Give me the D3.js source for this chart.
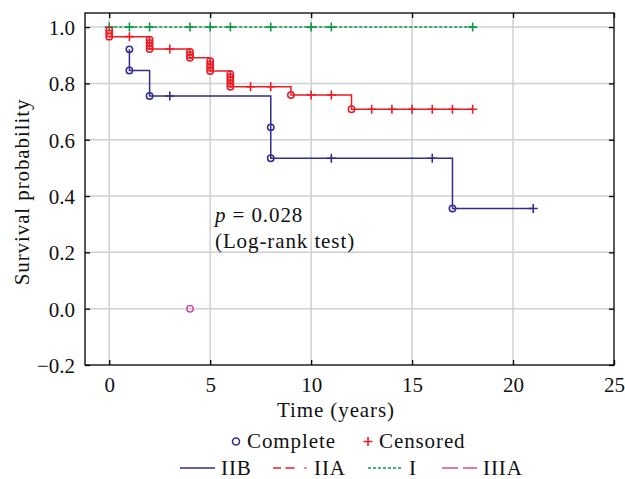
<!DOCTYPE html>
<html>
<head>
<meta charset="utf-8">
<script src="https://cdn.jsdelivr.net/npm/d3@7"></script>
<style>
  body { margin: 0; background: #fff; }
  text { font-family: "Liberation Serif", serif; fill: #111; }
  .word { letter-spacing: 0.9px; }
</style>
</head>
<body>
<script>
// Data
const groups = ["IIB", "IIA", "I", "IIIA"];
const colors = ["#312c8e", "#ec1c24", "#0d9a48", "#d24f9c"];

// step curves (time, survival)
const iibTime = [1, 1, 2, 8, 17, 21];
const iibSurv = [0.921, 0.846, 0.755, 0.534, 0.356, 0.356];
const iiaTime = [0, 2, 4, 5, 6, 9, 12, 18];
const iiaSurv = [0.966, 0.922, 0.891, 0.844, 0.788, 0.759, 0.708, 0.708];
const iTime = [0, 18];
const iSurv = [1, 1];

// events (complete)
const iibEventTime = [1, 1, 2, 8, 8, 17];
const iibEventSurv = [0.921, 0.846, 0.755, 0.644, 0.534, 0.356];
const iiaEventTime = [0, 0, 0, 2, 2, 2, 2, 4, 4, 4, 5, 5, 5, 5, 6, 6, 6, 6, 6, 9, 12];
const iiaEventSurv = [0.989, 0.977, 0.966, 0.955, 0.944, 0.933, 0.922, 0.912, 0.901, 0.891,
                      0.879, 0.867, 0.856, 0.844, 0.833, 0.822, 0.811, 0.799, 0.788, 0.759, 0.708];
const iiiaEventTime = [4];
const iiiaEventSurv = [0];

// censored
const iibCensTime = [3, 11, 16, 21];
const iibCensSurv = [0.755, 0.534, 0.534, 0.356];
const iiaCensTime = [1, 3, 7, 8, 10, 11, 13, 14, 15, 16, 17, 18];
const iiaCensSurv = [0.966, 0.922, 0.788, 0.788, 0.759, 0.759, 0.708, 0.708, 0.708, 0.708, 0.708, 0.708];
const iCensTime = [0, 1, 2, 4, 5, 6, 8, 10, 11, 18];
const iCensSurv = [1, 1, 1, 1, 1, 1, 1, 1, 1, 1];

const xTicks = [0, 5, 10, 15, 20, 25];
const yTicks = [-0.2, 0, 0.2, 0.4, 0.6, 0.8, 1.0];

const width = 625, height = 479;
const pLeft = 85, pRight = 614, pTop = 13, pBottom = 365;

const svg = d3.select("body").append("svg")
    .attr("width", width)
    .attr("height", height);

const x = d3.scaleLinear().domain([-1.2, 25]).range([pLeft, pRight]);
const y = d3.scaleLinear().domain([-0.2, 1.05]).range([pBottom, pTop]);

// grid
svg.append("g")
    .selectAll("line")
    .data(xTicks.filter(d => d < 25))
    .join("line")
    .attr("x1", d => x(d)).attr("x2", d => x(d))
    .attr("y1", pTop).attr("y2", pBottom)
    .attr("stroke", "#cfcfcf").attr("stroke-width", 1.5);
svg.append("g")
    .selectAll("line")
    .data(yTicks.filter(d => d > -0.2))
    .join("line")
    .attr("x1", pLeft).attr("x2", pRight)
    .attr("y1", d => y(d)).attr("y2", d => y(d))
    .attr("stroke", "#cfcfcf").attr("stroke-width", 1.5);

// axes (inward ticks, mirrored)
const fmt = d => (d < 0 ? "\u2212" : "") + Math.abs(d).toFixed(1);
const axB = svg.append("g").attr("transform", `translate(0,${pBottom})`)
    .call(d3.axisBottom(x).tickValues(xTicks).tickSizeInner(-5).tickSizeOuter(0).tickPadding(12));
const axT = svg.append("g").attr("transform", `translate(0,${pTop})`)
    .call(d3.axisTop(x).tickValues(xTicks).tickSizeInner(-5).tickSizeOuter(0).tickFormat(""));
const axL = svg.append("g").attr("transform", `translate(${pLeft},0)`)
    .call(d3.axisLeft(y).tickValues(yTicks).tickSizeInner(-5).tickSizeOuter(0).tickPadding(10).tickFormat(fmt));
const axR = svg.append("g").attr("transform", `translate(${pRight},0)`)
    .call(d3.axisRight(y).tickValues(yTicks).tickSizeInner(-5).tickSizeOuter(0).tickFormat(""));
[axB, axT, axL, axR].forEach(g => {
    g.select(".domain").remove();
    g.selectAll(".tick line").attr("stroke", "#000").attr("stroke-width", 1.3);
    g.selectAll("text").attr("font-size", 21).attr("fill", "#111")
        .style("font-family", "'Liberation Serif', serif");
});
axL.selectAll("text").attr("dy", "0.35em");
axB.selectAll("text").attr("dy", "0.72em");

svg.append("rect")
    .attr("x", pLeft).attr("y", pTop)
    .attr("width", pRight - pLeft).attr("height", pBottom - pTop)
    .attr("fill", "none").attr("stroke", "#000").attr("stroke-width", 1.3);

// curves
const line = d3.line().x(d => x(d[0])).y(d => y(d[1])).curve(d3.curveStepAfter);
const curves = [
    { t: iibTime, s: iibSurv, c: colors[0], dash: null },
    { t: iiaTime, s: iiaSurv, c: colors[1], dash: null },
    { t: iTime, s: iSurv, c: colors[2], dash: "3,2" }
];
svg.append("g")
    .selectAll("path")
    .data(curves)
    .join("path")
    .attr("d", d => line(d.t.map((v, i) => [v, d.s[i]])))
    .attr("fill", "none")
    .attr("stroke", d => d.c)
    .attr("stroke-width", 1.5)
    .attr("stroke-dasharray", d => d.dash);

// censored marks
const cens = [
    { t: iibCensTime, s: iibCensSurv, c: colors[0] },
    { t: iiaCensTime, s: iiaCensSurv, c: colors[1] },
    { t: iCensTime, s: iCensSurv, c: colors[2] }
];
const plus = (cx, cy, r) => `M${cx - r},${cy}H${cx + r}M${cx},${cy - r}V${cy + r}`;
cens.forEach(g => {
    svg.append("g")
        .selectAll("path")
        .data(g.t.map((v, i) => [v, g.s[i]]))
        .join("path")
        .attr("d", d => plus(x(d[0]), y(d[1]), 4.5))
        .attr("stroke", g.c)
        .attr("stroke-width", 1.6)
        .attr("fill", "none");
});

// event circles
const events = [
    { t: iibEventTime, s: iibEventSurv, c: colors[0] },
    { t: iiaEventTime, s: iiaEventSurv, c: colors[1] },
    { t: iiiaEventTime, s: iiiaEventSurv, c: colors[3] }
];
events.forEach(g => {
    svg.append("g")
        .selectAll("circle")
        .data(g.t.map((v, i) => [v, g.s[i]]))
        .join("circle")
        .attr("cx", d => x(d[0]))
        .attr("cy", d => y(d[1]))
        .attr("r", 3.2)
        .attr("fill", "none")
        .attr("stroke", g.c)
        .attr("stroke-width", 1.5);
});

// annotation
const note = svg.append("g").attr("font-size", 21).attr("class", "word");
note.append("text").attr("x", 215).attr("y", 222)
    .html('<tspan font-style="italic">p</tspan> = 0.028');
note.append("text").attr("x", 215).attr("y", 248).text("(Log-rank test)");

// axis titles
svg.append("text").attr("class", "word")
    .attr("x", 336).attr("y", 417)
    .attr("text-anchor", "middle").attr("font-size", 21)
    .text("Time (years)");
svg.append("text").attr("class", "word")
    .attr("transform", `translate(29,192) rotate(-90)`)
    .attr("text-anchor", "middle").attr("font-size", 21)
    .text("Survival probability");

// legend: markers
svg.append("circle").attr("cx", 236).attr("cy", 441.5).attr("r", 3.5)
    .attr("fill", "none").attr("stroke", colors[0]).attr("stroke-width", 1.6);
svg.append("text").attr("class", "word").attr("x", 247).attr("y", 448).attr("font-size", 21).text("Complete");
svg.append("path").attr("d", plus(368, 441.5, 4.5))
    .attr("stroke", colors[1]).attr("stroke-width", 1.6);
svg.append("text").attr("class", "word").attr("x", 379).attr("y", 448).attr("font-size", 21).text("Censored");

// legend: lines
const legendItems = [
    { label: groups[0], x0: 180, c: colors[0], dash: null },
    { label: groups[1], x0: 273, c: colors[1], dash: "8,4.5,9,10,2,20" },
    { label: groups[2], x0: 368, c: colors[2], dash: "3,2" },
    { label: groups[3], x0: 442, c: colors[3], dash: "16,5,14,20" }
];
const lg = svg.append("g")
    .selectAll("g")
    .data(legendItems)
    .join("g");
lg.append("line")
    .attr("x1", d => d.x0).attr("x2", d => d.x0 + 35)
    .attr("y1", 468).attr("y2", 468)
    .attr("stroke", d => d.c).attr("stroke-width", 1.6)
    .attr("stroke-dasharray", d => d.dash);
lg.append("text").attr("class", "word")
    .attr("x", d => d.x0 + 41).attr("y", 474.5)
    .attr("font-size", 21)
    .text(d => d.label);
</script>
</body>
</html>
